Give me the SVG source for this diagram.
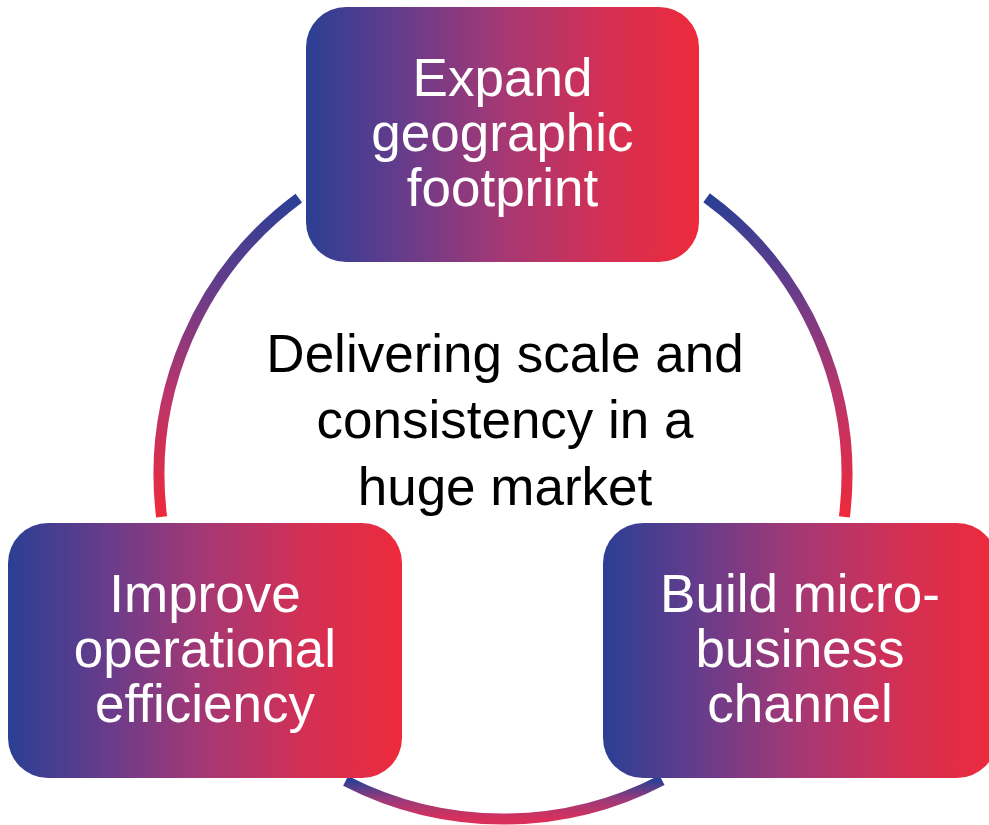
<svg xmlns="http://www.w3.org/2000/svg" width="989" height="825" viewBox="0 0 989 825">
<defs>
<linearGradient id="boxGrad" x1="0" y1="0" x2="1" y2="0">
<stop offset="0" stop-color="#2b3f94"/>
<stop offset="0.25" stop-color="#683c8b"/>
<stop offset="0.5" stop-color="#a53874"/>
<stop offset="0.75" stop-color="#d23055"/>
<stop offset="1" stop-color="#ee2a3b"/>
</linearGradient>
<linearGradient id="arcGrad" x1="0" y1="0" x2="0" y2="1">
<stop offset="0" stop-color="#2b3f94"/>
<stop offset="0.3" stop-color="#6a3c8a"/>
<stop offset="0.6" stop-color="#b7356c"/>
<stop offset="1" stop-color="#ee2a3b"/>
</linearGradient>
<linearGradient id="arcGradB" x1="0" y1="0" x2="0" y2="1">
<stop offset="0" stop-color="#2b3f94"/>
<stop offset="0.5" stop-color="#9a3a7a"/>
<stop offset="1" stop-color="#d8305a"/>
</linearGradient>
</defs>
<style>
.box{fill:url(#boxGrad);}
.arc{fill:none;stroke:url(#arcGrad);stroke-width:11;}
.arcB{fill:none;stroke:url(#arcGradB);stroke-width:11;}
.lbl{font-family:"Liberation Sans",Arial,sans-serif;font-size:53px;fill:#ffffff;text-anchor:middle;}
.ctr{font-family:"Liberation Sans",Arial,sans-serif;font-size:53px;fill:#000000;text-anchor:middle;}
</style>
<rect width="989" height="825" fill="#ffffff"/>
<g id="connectors">
<path class="arc" d="M 298.8 198.1 A 344 344 0 0 0 161.6 516.9"/>
<path class="arc" d="M 706.6 197.8 A 344 344 0 0 1 844.4 516.9"/>
<path class="arcB" d="M 345.6 780.9 A 344 344 0 0 0 662 780.1"/>
</g>
<g id="node-top">
<rect class="box" x="306" y="7" width="393" height="255" rx="40" ry="40"/>
<text class="lbl" x="502.5" y="96">Expand</text>
<text class="lbl" x="502.5" y="151">geographic</text>
<text class="lbl" x="502.5" y="206">footprint</text>
</g>
<g id="node-left">
<rect class="box" x="8" y="523" width="394" height="255" rx="40" ry="40"/>
<text class="lbl" x="205" y="612">Improve</text>
<text class="lbl" x="205" y="667">operational</text>
<text class="lbl" x="205" y="722">efficiency</text>
</g>
<g id="node-right">
<rect class="box" x="603" y="523" width="394" height="255" rx="40" ry="40"/>
<text class="lbl" x="800" y="612">Build micro-</text>
<text class="lbl" x="800" y="667">business</text>
<text class="lbl" x="800" y="722">channel</text>
</g>
<g id="center">
<text class="ctr" x="505" y="372">Delivering scale and</text>
<text class="ctr" x="505" y="438">consistency in a</text>
<text class="ctr" x="505" y="505">huge market</text>
</g>
</svg>
